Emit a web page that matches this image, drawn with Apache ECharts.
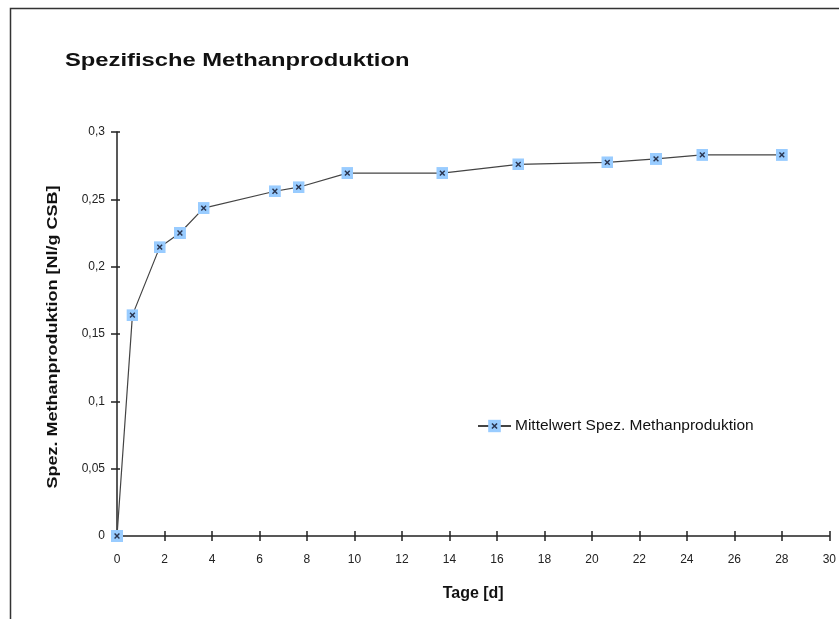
<!DOCTYPE html>
<html>
<head>
<meta charset="utf-8">
<script src="https://cdn.jsdelivr.net/npm/echarts@6/dist/echarts.min.js"></script>
<style>html,body{margin:0;padding:0;background:#fff}#c{width:839px;height:619px}</style>
</head>
<body>
<div id="c"></div>
<script>
var days = [0, 0.65, 1.8, 2.65, 3.65, 6.65, 7.65, 9.7, 13.7, 16.9, 20.65, 22.7, 24.65, 28];
var methan = [0, 0.164, 0.2145, 0.225, 0.2435, 0.256, 0.259, 0.2695, 0.2695, 0.276, 0.2775, 0.280, 0.283, 0.283];
var seriesName = 'Mittelwert Spez. Methanproduktion';
var titleText = 'Spezifische Methanproduktion';
var xTitle = 'Tage [d]';
var yTitle = 'Spez. Methanproduktion [Nl/g CSB]';

var svg = '<svg xmlns="http://www.w3.org/2000/svg" width="20" height="20" viewBox="0 0 20 20">' +
  '<rect x="0" y="0" width="20" height="20" fill="#99ccff"/>' +
  '<path d="M6 6 L14 14 M14 6 L6 14" stroke="#2a3550" stroke-width="2.4"/></svg>';
var sym = 'image://data:image/svg+xml;charset=utf-8,' + encodeURIComponent(svg);

var font = 'Liberation Sans, Arial, sans-serif';
var chart = echarts.init(document.getElementById('c'));
var data = days.map(function (d, i) { return [d, methan[i]]; });
chart.setOption({
  animation: false,
  backgroundColor: '#fff',
  graphic: [
    { type: 'rect', shape: { x: 10.5, y: 8.5, width: 900, height: 700 }, style: { fill: 'none', stroke: '#333', lineWidth: 1.5 }, silent: true, z: -1 },
    { type: 'text', x: 65, y: 61, scaleX: 1.25, style: { text: titleText, font: 'bold 19px ' + font, fill: '#111', textVerticalAlign: 'middle', textAlign: 'left' } },
    { type: 'text', x: 53, y: 337, rotation: Math.PI / 2, scaleX: 1.2, style: { text: yTitle, font: 'bold 15px ' + font, fill: '#111', textAlign: 'center', textVerticalAlign: 'middle' } }
  ],
  legend: { left: 472, top: 413, itemWidth: 33, itemHeight: 16, itemGap: 2,
    textStyle: { fontFamily: font, fontSize: 15.5, color: '#111', padding: [0, 0, 0, -1] }, data: [seriesName] },
  grid: { left: 117, right: 8, top: 132, bottom: 83, containLabel: false },
  xAxis: [{
    type: 'value', min: 0, max: 30, interval: 2, name: xTitle, nameLocation: 'middle', nameGap: 50,
    nameTextStyle: { fontFamily: font, fontSize: 16, fontWeight: 'bold', color: '#111' },
    axisLine: { lineStyle: { color: '#222', width: 1.5 } },
    axisTick: { length: 5, lineStyle: { color: '#222', width: 1.5 } },
    axisLabel: { fontFamily: font, fontSize: 12, color: '#222', margin: 18 },
    splitLine: { show: false }
  }, {
    type: 'value', min: 0, max: 30, interval: 2, position: 'bottom',
    axisLine: { show: false }, axisTick: { inside: true, length: 5, lineStyle: { color: '#222', width: 1.5 } },
    axisLabel: { show: false }, splitLine: { show: false }
  }],
  yAxis: [{
    type: 'value', min: 0, max: 0.3, interval: 0.05,
    axisLine: { show: true, lineStyle: { color: '#222', width: 1.5 } },
    axisTick: { show: true, length: 6, lineStyle: { color: '#222', width: 1.5 } },
    axisLabel: { fontFamily: font, fontSize: 12, color: '#222', margin: 12,
      formatter: function (v) { return String(+v.toFixed(2)).replace('.', ','); } },
    splitLine: { show: false }
  }, {
    type: 'value', min: 0, max: 0.3, interval: 0.05, position: 'left',
    axisLine: { show: false }, axisTick: { show: true, inside: true, length: 3, lineStyle: { color: '#222', width: 1.5 } },
    axisLabel: { show: false }, splitLine: { show: false }
  }],
  series: [{
    name: seriesName, type: 'line', data: data, symbol: sym, symbolSize: 12,
    lineStyle: { color: '#444', width: 1.2 }, itemStyle: { color: '#444' }
  }]
});
</script>
</body>
</html>
